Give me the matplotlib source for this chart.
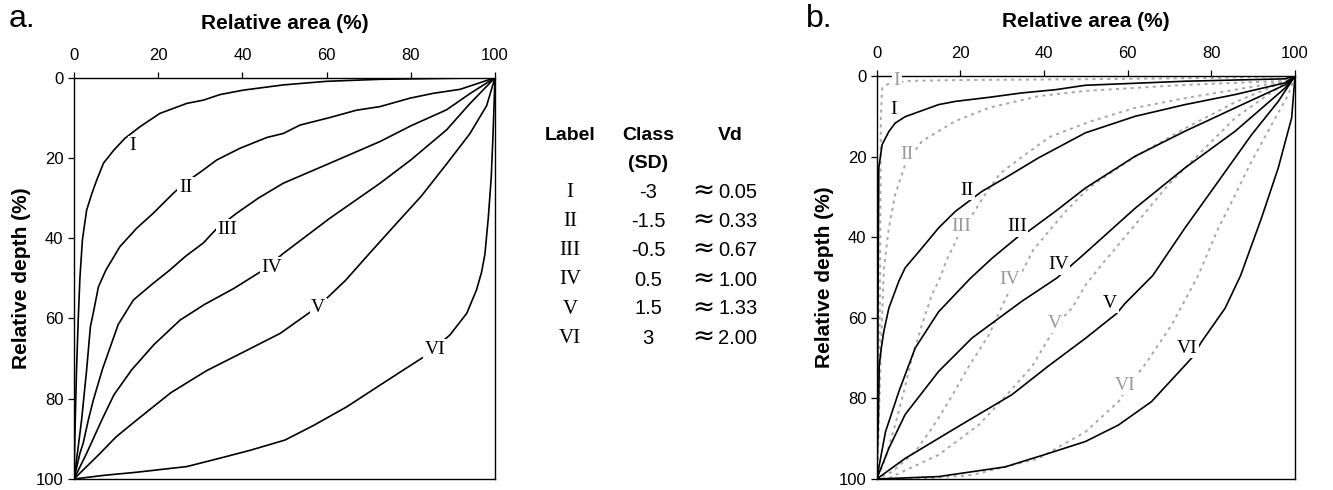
import matplotlib
matplotlib.use('Agg')
import matplotlib.pyplot as plt

# 类别与表格
labels = ['I', 'II', 'III', 'IV', 'V', 'VI']
sd_class = ['-3', '-1.5', '-0.5', '0.5', '1.5', '3']
vd_values = ['0.05', '0.33', '0.67', '1.00', '1.33', '2.00']
ticks = [0, 20, 40, 60, 80, 100]

# 图 a：相对面积 / 相对深度 (%)
a_I_area = [100, 72.7, 60, 49.7, 40.2, 34.7, 30.7, 26.8, 20.4, 15.7, 12.1, 9.5, 7, 5.4, 4.2, 3, 2, 1.4, 1.0, 0.6, 0.3, 0]
a_I_depth = [0, 0.4, 0.9, 1.8, 3.1, 4.2, 5.6, 6.4, 8.9, 12.2, 15.1, 18, 21.3, 25.5, 29, 33, 40.4, 50, 60.4, 72.8, 85, 100]
a_II_area = [100, 91.7, 85.3, 79.8, 72.7, 67.1, 60.5, 53.7, 49.7, 45.8, 39.4, 33.9, 30.7, 26, 23.6, 18.8, 14.9, 10.9, 7.6, 5.8, 4.7, 3.9, 3.0, 1.8, 1.0, 0]
a_II_depth = [0, 2.9, 3.9, 5.1, 7.2, 8.1, 10, 11.8, 13.9, 14.9, 17.6, 20.5, 23, 26.5, 28.8, 33.8, 37.5, 42.1, 47.9, 52.1, 58, 62, 72.8, 85.3, 92, 100]
a_III_area = [100, 94, 88.5, 80, 72.7, 60.8, 49.7, 43.8, 38.6, 34, 30.7, 26.5, 22.8, 18.5, 14.1, 10.5, 6.8, 4.6, 3.4, 2.2, 1.4, 0]
a_III_depth = [0, 4, 8, 12, 15.9, 21.3, 26.3, 30, 33.8, 37.5, 41.2, 44.5, 47.9, 51.5, 55.4, 61.5, 72.5, 80.3, 85.3, 91, 93.6, 100]
a_IV_area = [100, 94, 88.5, 80, 72.7, 60.8, 49.7, 45, 38, 31, 25.2, 19, 13.7, 9.5, 6.6, 3.0, 0]
a_IV_depth = [0, 6.5, 13, 20.5, 26.3, 35, 43.8, 47.9, 52.5, 56.5, 60.4, 66.5, 72.8, 79, 85.3, 93.6, 100]
a_V_area = [100, 98, 94, 88.5, 82.5, 76, 70, 64.5, 58, 49, 40, 31.5, 23, 14.9, 10, 6.2, 0]
a_V_depth = [0, 7, 14, 21.5, 29.5, 37, 44, 50.5, 57, 63.7, 68.5, 73, 78.5, 85.3, 89.5, 93.6, 100]
a_VI_area = [100, 99.5, 99.1, 98.4, 97.6, 96.8, 95.6, 93.3, 89.3, 83.8, 78, 72.7, 64.8, 57, 50.1, 42, 34.7, 26.8, 15, 7, 0]
a_VI_depth = [0, 15, 25, 35, 44, 48.5, 52.9, 58.7, 64.1, 69.1, 73, 76.6, 82, 86.6, 90.3, 92.8, 94.8, 96.9, 98.3, 99.1, 100]

# 图 b：黑色实线
b_I_area = [100, 97.6, 73.7, 49.9, 42.7, 34.7, 26.8, 18.8, 14.8, 10.8, 6.8, 4.4, 2.9, 1.3, 0.5, 0.4, 0.3, 0.2, 0]
b_I_depth = [0, 0.7, 1.3, 2.3, 3.4, 4.2, 5.3, 6.3, 7.1, 8.6, 10.1, 11.7, 13.8, 17, 22.8, 40, 60, 80, 100]
b_II_area = [100, 97.6, 85.7, 73.7, 61.8, 49.9, 38.7, 30.7, 25.2, 18.8, 14.8, 10.8, 6.8, 5.3, 2.9, 1.7, 1.1, 0.6, 0.4, 0]
b_II_depth = [0, 1.7, 4.6, 7.1, 10, 14.1, 20.3, 25.3, 28.6, 33.6, 37.7, 42.7, 47.6, 50.9, 57.6, 63.4, 67.5, 72, 84.5, 100]
b_III_area = [100, 97.6, 85.7, 73.7, 61.8, 49.9, 42.7, 36.3, 33.9, 27.6, 22.4, 14.8, 9.2, 5.3, 2.1, 0]
b_III_depth = [0, 2.2, 7.9, 13.7, 19.9, 27.8, 33.6, 38.5, 39.8, 45.2, 50.2, 58.5, 67.5, 78.3, 88.3, 100]
b_IV_area = [100, 97.6, 85.7, 73.7, 61.8, 49.9, 43.1, 34.7, 22.8, 14.8, 6.8, 2.9, 0]
b_IV_depth = [0, 3, 13.7, 22.8, 32.8, 43.9, 50.1, 55.9, 65, 73.3, 84, 92.4, 100]
b_V_area = [100, 96, 89.6, 81.7, 73.7, 66, 59.4, 57.4, 49.9, 41, 32.3, 18.8, 6.8, 0]
b_V_depth = [0, 6.3, 14.6, 26.1, 37.7, 49.5, 56.4, 58.9, 65.1, 72, 79.1, 87.4, 94.9, 100]
b_VI_area = [100, 99.2, 96, 92, 87, 83.3, 77.7, 75.3, 65.7, 57.8, 49.9, 40, 30.7, 14.8, 0]
b_VI_depth = [0, 10.4, 22.8, 35.2, 49.5, 57.6, 65.9, 70, 80.8, 86.6, 90.7, 94, 97, 99.4, 100]

# 图 b：灰色虚线
g_I_area = [100, 80, 50, 20, 8, 3, 1.3, 1.0, 0.9, 0.8, 0.6, 0.3, 0]
g_I_depth = [0, 0.5, 0.8, 1.0, 1.2, 1.8, 3, 10, 30, 50, 80, 95, 100]
g_II_area = [100, 97.6, 73.7, 49.9, 38.7, 26.8, 18.8, 10.8, 6.8, 4.4, 2.9, 1.7, 1.1, 0.6, 0]
g_II_depth = [0, 1.2, 2.2, 3.7, 5.0, 7.9, 11.2, 16.2, 22, 29.5, 37.7, 48, 65.5, 82, 100]
g_III_area = [100, 97.6, 85.7, 73.7, 61.8, 51, 41.4, 34.3, 29.5, 25.5, 23.1, 20.3, 18.7, 16.7, 15.1, 13.2, 10.8, 8.4, 6.5, 4.4, 2.1, 0]
g_III_depth = [0, 1.3, 3.4, 5.5, 7.9, 11.3, 15.1, 20.4, 24.2, 30, 34.1, 37.5, 41.5, 45.7, 50.2, 54.3, 61.8, 70.1, 78.3, 86.6, 94.9, 100]
g_IV_area = [100, 97.6, 85.7, 73.7, 61.8, 51, 45.4, 41.4, 37.4, 35, 31.6, 26.8, 22, 17.2, 13.2, 9.2, 3.7, 0]
g_IV_depth = [0, 1.3, 6.5, 13, 20, 27.5, 33.3, 38.2, 43.2, 48.1, 53.5, 64.3, 72.1, 80.8, 87.4, 93.2, 98.2, 100]
g_V_area = [100, 93.6, 85.7, 77.7, 69.7, 61.8, 53.8, 49.9, 46.7, 43.5, 37.1, 30.7, 24.4, 14.8, 2.9, 0]
g_V_depth = [0, 4.6, 10.4, 18.7, 27, 36.9, 46.8, 51.9, 57.6, 61, 72.1, 79.6, 86.6, 94, 99.8, 100]
g_VI_area = [100, 98.4, 94.4, 89.6, 85.7, 81.7, 76.9, 70.5, 64.1, 60.6, 57.8, 49.9, 38.7, 22.8, 10, 0]
g_VI_depth = [0, 4.6, 12.1, 21.2, 29.5, 37.7, 49.4, 61.8, 71.7, 76.2, 80.8, 88.3, 94.9, 99, 100, 100]

a_curves = [(a_I_area, a_I_depth), (a_II_area, a_II_depth), (a_III_area, a_III_depth),
            (a_IV_area, a_IV_depth), (a_V_area, a_V_depth), (a_VI_area, a_VI_depth)]
b_curves = [(b_I_area, b_I_depth), (b_II_area, b_II_depth), (b_III_area, b_III_depth),
            (b_IV_area, b_IV_depth), (b_V_area, b_V_depth), (b_VI_area, b_VI_depth)]
g_curves = [(g_I_area, g_I_depth), (g_II_area, g_II_depth), (g_III_area, g_III_depth),
            (g_IV_area, g_IV_depth), (g_V_area, g_V_depth), (g_VI_area, g_VI_depth)]

# 曲线标签位置
a_label_pos = [(14, 17), (26.5, 27.3), (36.5, 37.8), (47, 47.3), (58, 57.3), (85.8, 67.7)]
b_label_pos = [(4, 8.4), (21.6, 28.3), (33.5, 37.4), (43.4, 46.8), (55.8, 56.4), (74.2, 67.6)]
g_label_pos = [(4.8, 1.0), (7.2, 19.6), (20.3, 37.4), (31.9, 50.6), (42.6, 61.4), (59.4, 76.7)]

plt.rcParams['font.family'] = ['Liberation Sans', 'DejaVu Sans']
W, H = 1333, 490
GRAY = '#a8a8a8'
SERIF = ['Liberation Serif', 'DejaVu Serif']


def setupAxes(ax):
    ax.set_xlim(0, 100)
    ax.set_ylim(100, 0)
    ax.set_xticks(ticks)
    ax.set_yticks(ticks)
    ax.xaxis.tick_top()
    ax.tick_params(direction='out', length=4.5, width=0.9, labelsize=12, pad=3)
    ax.tick_params(axis='x', pad=6)
    for sp in ax.spines.values():
        sp.set_linewidth(1.0)
    ax.set_xlabel('Relative area (%)', fontsize=15, fontweight='bold', labelpad=14)
    ax.xaxis.set_label_position('top')
    ax.set_ylabel('Relative depth (%)', fontsize=15, fontweight='bold', labelpad=3.5)


def curveLabel(ax, txt, pos, color='black'):
    ax.text(pos[0], pos[1], txt, ha='center', va='center', fontsize=14, color=color,
            family=SERIF, zorder=5,
            bbox=dict(boxstyle='square,pad=0.08', fc='white', ec='none'))


fig = plt.figure(figsize=(W / 100, H / 100), dpi=100)

axA = fig.add_axes([74 / W, 1 - 479 / H, 421 / W, 401.3 / H])
setupAxes(axA)
for (x, y), lab, pos in zip(a_curves, labels, a_label_pos):
    axA.plot(x, y, color='black', lw=1.2, zorder=3)
    curveLabel(axA, lab, pos)

axB = fig.add_axes([876.7 / W, 1 - 479 / H, 418.3 / W, 403 / H])
setupAxes(axB)
for (x, y) in g_curves:
    axB.plot(x, y, color=GRAY, lw=1.4, ls=(0, (1.6, 2.2)), zorder=2)
for (x, y) in b_curves:
    axB.plot(x, y, color='black', lw=1.2, zorder=3)
for lab, pos in zip(labels, g_label_pos):
    curveLabel(axB, lab, pos, color='#9a9a9a')
for lab, pos in zip(labels, b_label_pos):
    curveLabel(axB, lab, pos)

# 面板字母
fig.text(9 / W, 1 - 19 / H, 'a.', fontsize=23, ha='left', va='center')
fig.text(806 / W, 1 - 19 / H, 'b.', fontsize=23, ha='left', va='center')

# 中间的表格
colx = [570, 648, 730]
fig.text(colx[0] / W, 1 - 135 / H, 'Label', fontsize=14, fontweight='bold', ha='center', va='center')
fig.text(colx[1] / W, 1 - 135 / H, 'Class', fontsize=14, fontweight='bold', ha='center', va='center')
fig.text(colx[1] / W, 1 - 163 / H, '(SD)', fontsize=14, fontweight='bold', ha='center', va='center')
fig.text(colx[2] / W, 1 - 135 / H, 'Vd', fontsize=14, fontweight='bold', ha='center', va='center')
rowy = [192, 221, 250, 280, 309, 338]
for lab, sd, vd, y in zip(labels, sd_class, vd_values, rowy):
    fig.text(colx[0] / W, 1 - y / H, lab, fontsize=15, family=SERIF, ha='center', va='center')
    fig.text(colx[1] / W, 1 - y / H, sd, fontsize=14.5, ha='center', va='center')
    fig.text(714 / W, 1 - (y - 1) / H, '\u2248', fontsize=19, ha='right', va='center',
             family=['DejaVu Sans'])
    fig.text(718 / W, 1 - y / H, vd, fontsize=14.5, ha='left', va='center')

fig.savefig('out.png', dpi=100)
